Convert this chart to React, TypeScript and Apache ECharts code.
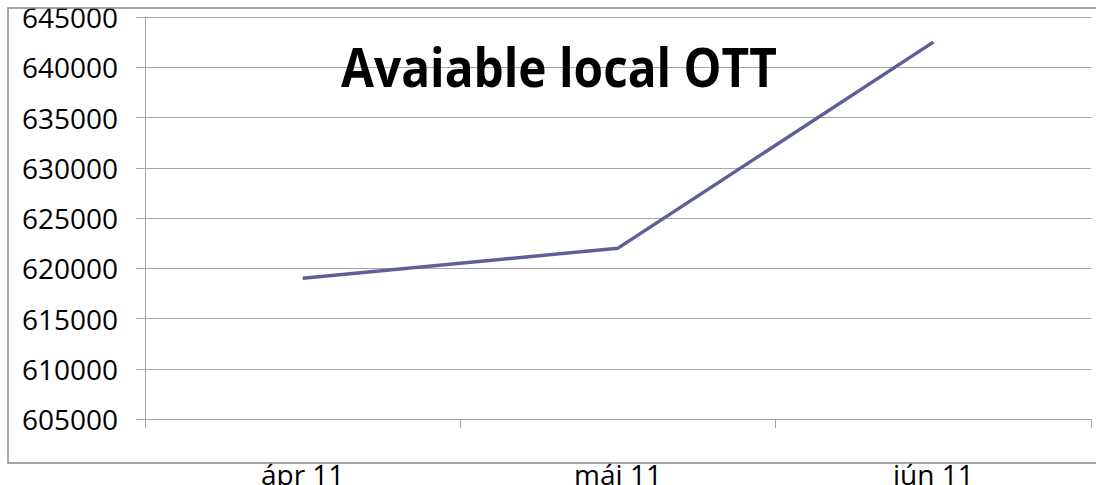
import React, { useEffect, useRef } from "react";
import * as echarts from "echarts";

const categories = ["ápr 11", "mái 11", "jún 11"];
const values = [619000, 622000, 642500];
const yMin = 605000;
const yMax = 645000;
const yStep = 5000;
const titleText = "Avaiable local OTT";

export default function App() {
  const ref = useRef<HTMLDivElement>(null);
  useEffect(() => {
    const chart = echarts.init(ref.current!, undefined, { renderer: "svg" });
    chart.setOption({
      animation: false,
      backgroundColor: "#ffffff",
      grid: { left: 145, right: 5, top: 17, bottom: 66, containLabel: false, outerBoundsMode: "none" },
      graphic: [
        {
          type: "rect",
          shape: { x: 8, y: 8, width: 1100, height: 455 },
          style: { fill: "none", stroke: "#8a8a8a", lineWidth: 1.5 },
          silent: true,
          z: 20,
        },
        {
          type: "text",
          x: 559,
          y: 93,
          scaleX: 0.885,
          style: {
            text: titleText,
            fontFamily: "Open Sans",
            fontWeight: "bold",
            fontSize: 54,
            fill: "#000000",
            textAlign: "center",
            textVerticalAlign: "bottom",
          },
          z: 10,
        },
      ],
      xAxis: {
        type: "category",
        data: categories,
        boundaryGap: true,
        axisLine: { show: true, lineStyle: { color: "#a6a6a6", width: 1 } },
        axisTick: { show: true, length: 9, lineStyle: { color: "#a6a6a6" } },
        axisLabel: {
          color: "#000000",
          fontFamily: "Open Sans",
          fontSize: 28,
          margin: 41,
        },
        splitLine: { show: false },
      },
      yAxis: {
        type: "value",
        min: yMin,
        max: yMax,
        interval: yStep,
        axisLine: { show: true, lineStyle: { color: "#a6a6a6", width: 1 } },
        axisTick: { show: true, length: 9, lineStyle: { color: "#a6a6a6" } },
        axisLabel: {
          color: "#000000",
          fontFamily: "Open Sans",
          fontSize: 28,
          margin: 27,
          formatter: (v: number) => String(v),
        },
        splitLine: { show: true, lineStyle: { color: "#a6a6a6", width: 1 } },
      },
      series: [
        {
          type: "line",
          data: values,
          showSymbol: false,
          symbol: "none",
          lineStyle: { color: "#5f5f9b", width: 3.5 },
        },
      ],
    });
    return () => chart.dispose();
  }, []);
  return (
    <div
      ref={ref}
      style={{ position: "fixed", left: 0, top: 0, width: 1096, height: 485, overflow: "hidden" }}
    />
  );
}
